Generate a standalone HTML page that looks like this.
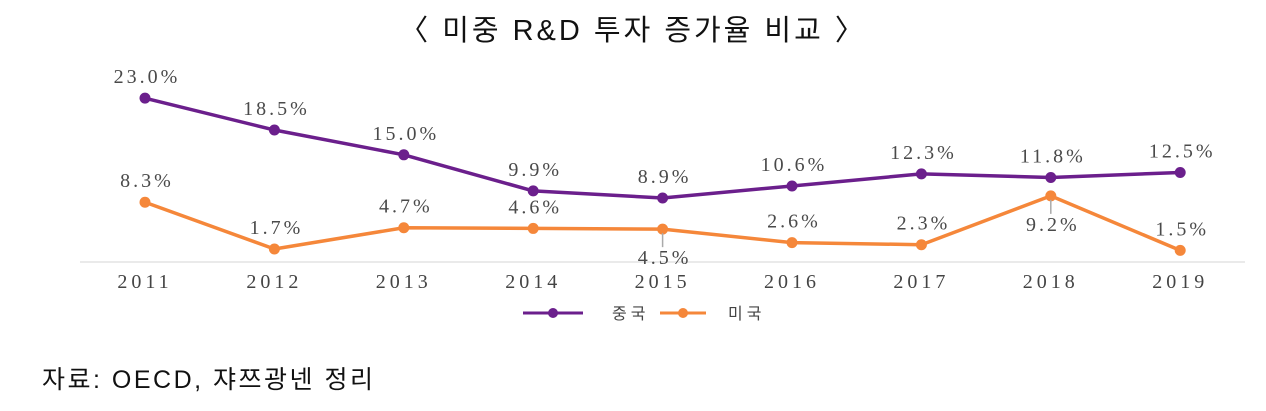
<!DOCTYPE html>
<html><head><meta charset="utf-8"><style>
body{margin:0;background:#fff;width:1266px;height:411px;overflow:hidden;font-family:"Liberation Sans","Noto Sans CJK KR",sans-serif}
#title{position:absolute;left:0;width:1266px;top:7px;text-align:center;font-size:29px;letter-spacing:3px;color:#111;font-family:"Liberation Sans","Noto Sans CJK KR",sans-serif}
#src{position:absolute;left:42px;top:360px;font-size:25px;letter-spacing:2.5px;color:#111}
svg{position:absolute;left:0;top:0}
</style></head><body>
<div id="title">〈 미중 R&amp;D 투자 증가율 비교 〉</div>
<svg id="chart" width="1266" height="411"></svg>
<div id="src">자료: OECD, 쟈쯔광넨 정리</div>
<script>
const years=["2011","2012","2013","2014","2015","2016","2017","2018","2019"];
const china=[23.0,18.5,15.0,9.9,8.9,10.6,12.3,11.8,12.5];
const usa=[8.3,1.7,4.7,4.6,4.5,2.6,2.3,9.2,1.5];
const usaLabelBelow=[false,false,false,false,true,false,false,true,false];
const svg=document.getElementById('chart');
const NS='http://www.w3.org/2000/svg';
const x=i=>145+i*129.4;
const y=v=>261-v*7.08;
function mk(t,a){const e=document.createElementNS(NS,t);for(const k in a)e.setAttribute(k,a[k]);svg.appendChild(e);return e;}
const axis=mk('line',{x1:80,x2:1245,y1:262,y2:262,stroke:'#e4e4e4','stroke-width':1.5});


years.forEach((yr,i)=>{
 const t=mk('text',{x:x(i),y:288,'text-anchor':'middle','font-family':'Liberation Serif, serif','font-size':20,fill:'#444','letter-spacing':4});
 t.textContent=yr;
 
 
});
function series(vals,color,name,below){
 const p=mk('polyline',{points:vals.map((v,i)=>x(i)+','+y(v)).join(' '),fill:'none',stroke:color,'stroke-width':3.5,'stroke-linejoin':'round'});
 
 
 vals.forEach((v,i)=>{
  const c=mk('circle',{cx:x(i),cy:y(v),r:5.5,fill:color});
  
  
  const b=below&&below[i];
  if(b){const l=mk('line',{x1:x(i),x2:x(i),y1:y(v)+4,y2:y(v)+18,stroke:'#aaa','stroke-width':1.5});
   
   }
  const t=mk('text',{x:x(i)+2,y:b?y(v)+35:y(v)-15,'text-anchor':'middle','font-family':'Liberation Serif, serif','font-size':20,fill:'#4a4a4a','letter-spacing':3});
  t.textContent=v.toFixed(1)+'%';
  
  
 });
}
series(china,'#6b1f8c','china',null);
series(usa,'#f5873a','usa',usaLabelBelow);
[[523,583,'#6b1f8c','중국',612,'legend-china'],[660,706,'#f5873a','미국',728,'legend-usa']].forEach(L=>{
 const g=mk('g',{});
 
 
 const l=document.createElementNS(NS,'line');[['x1',L[0]],['x2',L[1]],['y1',313],['y2',313],['stroke',L[2]],['stroke-width',3]].forEach(a=>l.setAttribute(a[0],a[1]));g.appendChild(l);
 const c=document.createElementNS(NS,'circle');[['cx',(L[0]+L[1])/2],['cy',313],['r',5],['fill',L[2]]].forEach(a=>c.setAttribute(a[0],a[1]));g.appendChild(c);
 const t=document.createElementNS(NS,'text');[['x',L[4]],['y',319],['font-size',16],['letter-spacing',4],['fill','#444']].forEach(a=>t.setAttribute(a[0],a[1]));t.textContent=L[3];g.appendChild(t);
});
</script>
</body></html>
